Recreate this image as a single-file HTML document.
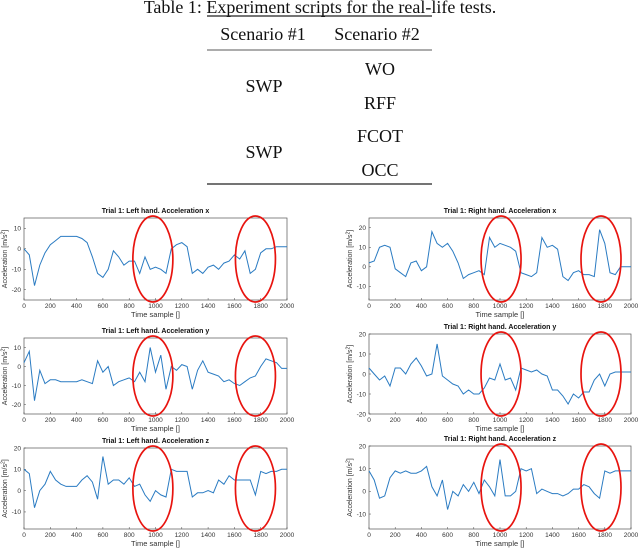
<!DOCTYPE html>
<html><head><meta charset="utf-8"><style>
html,body{margin:0;padding:0;background:#fff;width:640px;height:552px;overflow:hidden}
svg{display:block}
.tx{font-family:"Liberation Serif",serif;fill:#111;font-size:18px}
</style></head><body>
<svg id="c" width="640" height="552" xmlns="http://www.w3.org/2000/svg">
<g>
<text class="tx" x="320" y="13" text-anchor="middle" font-size="17">Table 1: Experiment scripts for the real-life tests.</text>
<line x1="207" y1="16" x2="432" y2="16" stroke="#222" stroke-width="1.2"/>
<text class="tx" x="263" y="40" text-anchor="middle">Scenario #1</text>
<text class="tx" x="377" y="40" text-anchor="middle">Scenario #2</text>
<line x1="207" y1="50" x2="432" y2="50" stroke="#222" stroke-width="0.8"/>
<text class="tx" x="264" y="92" text-anchor="middle">SWP</text>
<text class="tx" x="380" y="75" text-anchor="middle">WO</text>
<text class="tx" x="380" y="109" text-anchor="middle">RFF</text>
<text class="tx" x="264" y="158" text-anchor="middle">SWP</text>
<text class="tx" x="380" y="142" text-anchor="middle">FCOT</text>
<text class="tx" x="380" y="176" text-anchor="middle">OCC</text>
<line x1="207" y1="184" x2="432" y2="184" stroke="#222" stroke-width="1.2"/>
</g>
</svg>
<script>
const timeSamples=[0,40,80,120,160,200,240,280,320,360,400,440,480,520,560,600,640,680,720,760,800,840,880,920,960,1000,1040,1080,1120,1160,1200,1240,1280,1320,1360,1400,1440,1480,1520,1560,1600,1640,1680,1720,1760,1800,1840,1880,1920,1960,2000];
const xTicks=[0,200,400,600,800,1000,1200,1400,1600,1800,2000];
const leftX=[0,-3,-18,-8,-2,2,4,6,6,6,6,5,3,-4,-12,-14,-10,-1,-4,-8,-6,-6,-12,-4,-10,-9,-10,-12,0,2,3,1,-12,-10,-12,-9,-8,-10,-7,-6,-3,-5,-1,-12,-10,-2,0,0,1,1,1];
const leftY=[2,8,-18,-2,-9,-7,-7,-8,-8,-8,-8,-7,-8,-9,3,-3,0,-10,-8,-7,-6,-8,-3,-8,10,-3,6,-12,0,-2,1,0,-12,-2,3,-3,-4,-5,-8,-7,-9,-10,-8,-6,-5,0,4,3,2,-1,-1];
const leftZ=[10,8,-8,0,3,9,5,3,2,2,2,5,7,4,-4,16,3,5,5,3,6,2,3,-2,-5,0,-2,-3,10,9,9,9,-3,-1,-1,0,-1,5,3,7,5,5,5,5,-2,9,8,9,9,10,10];
const rightX=[2,3,10,11,10,-1,-3,-5,2,3,-2,0,18,12,10,12,8,2,-6,-4,-3,-2,-4,15,10,12,11,10,8,-3,-4,-5,-3,15,10,11,9,-5,-7,-3,-2,-4,-4,-5,19,12,-3,-4,0,0,0];
const rightY=[3,0,-3,-1,-6,3,3,0,5,8,4,-1,0,15,-1,-3,-5,-6,-10,-8,-10,-10,-7,-2,-3,5,-3,-2,-8,3,2,1,2,0,-1,-8,-8,-11,-15,-10,-12,-9,-9,-3,0,-6,0,1,1,1,1];
const rightZ=[9,5,-3,-2,6,9,8,9,8,8,9,11,2,-2,5,-8,0,-2,3,0,4,-1,5,2,-2,14,-2,-2,0,10,9,10,-1,1,0,-1,-1,-2,-1,1,1,3,2,-1,-3,9,8,9,9,9,9];
const yTicksLX=[10,0,-10,-20], yTicksLY=[10,0,-10,-20], yTicksLZ=[20,10,0,-10];
const yTicksRX=[20,10,0,-10], yTicksRY=[20,10,0,-10,-20], yTicksRZ=[20,10,0,-10];
const ellipseCentersLeft=[980,1760], ellipseCentersRight=[1008,1771];

const NS="http://www.w3.org/2000/svg";
const svg=document.getElementById('c');
function mk(tag,attrs,parent){const e=document.createElementNS(NS,tag);for(const k in attrs)e.setAttribute(k,attrs[k]);(parent||svg).appendChild(e);return e;}
const panels=[
 {name:'left-x',title:'Trial 1: Left hand. Acceleration x',x0:24,x1:287,y0:218,y1:300,ymax:15,ymin:-25,data:leftX,ticks:yTicksLX,ell:ellipseCentersLeft},
 {name:'left-y',title:'Trial 1: Left hand. Acceleration y',x0:24,x1:287,y0:338,y1:414,ymax:15,ymin:-25,data:leftY,ticks:yTicksLY,ell:ellipseCentersLeft},
 {name:'left-z',title:'Trial 1: Left hand. Acceleration z',x0:24,x1:287,y0:448,y1:529,ymax:20,ymin:-18,data:leftZ,ticks:yTicksLZ,ell:ellipseCentersLeft},
 {name:'right-x',title:'Trial 1: Right hand. Acceleration x',x0:369,x1:631,y0:218,y1:300,ymax:25,ymin:-17,data:rightX,ticks:yTicksRX,ell:ellipseCentersRight},
 {name:'right-y',title:'Trial 1: Right hand. Acceleration y',x0:369,x1:631,y0:334,y1:414,ymax:20,ymin:-20,data:rightY,ticks:yTicksRY,ell:ellipseCentersRight},
 {name:'right-z',title:'Trial 1: Right hand. Acceleration z',x0:369,x1:631,y0:446,y1:529,ymax:20,ymin:-16.6,data:rightZ,ticks:yTicksRZ,ell:ellipseCentersRight}
];
panels.forEach(p=>{
 const g=mk('g',{});
 
 
 const sx=v=>p.x0+(v-0)/2000*(p.x1-p.x0);
 const sy=v=>p.y0+(p.ymax-v)/(p.ymax-p.ymin)*(p.y1-p.y0);
 const box=mk('rect',{x:p.x0,y:p.y0,width:p.x1-p.x0,height:p.y1-p.y0,fill:'#fff',stroke:'#555','stroke-width':0.7},g);
 
 
 const t=mk('text',{x:(p.x0+p.x1)/2,y:p.y0-5,'text-anchor':'middle','font-family':'Liberation Sans, sans-serif','font-size':7,'font-weight':'bold',fill:'#111'},g);
 t.textContent=p.title;
 
 
 xTicks.forEach(v=>{
  mk('line',{x1:sx(v),x2:sx(v),y1:p.y1,y2:p.y1-2,stroke:'#444','stroke-width':0.5},g);
  const l=mk('text',{x:sx(v),y:p.y1+8,'text-anchor':'middle','font-family':'Liberation Sans, sans-serif','font-size':6.5,fill:'#333'},g);
  l.textContent=v;
  
  
 });
 p.ticks.forEach(v=>{
  mk('line',{x1:p.x0,x2:p.x0+2,y1:sy(v),y2:sy(v),stroke:'#444','stroke-width':0.5},g);
  const l=mk('text',{x:p.x0-3,y:sy(v)+2.3,'text-anchor':'end','font-family':'Liberation Sans, sans-serif','font-size':6.5,fill:'#333'},g);
  l.textContent=v;
  
  
 });
 const xl=mk('text',{x:(p.x0+p.x1)/2,y:p.y1+17,'text-anchor':'middle','font-family':'Liberation Sans, sans-serif','font-size':7.5,fill:'#333'},g);
 xl.textContent='Time sample []';
 
 
 const cy=(p.y0+p.y1)/2, yx=p.x0-17;
 const yl=mk('text',{x:yx,y:cy,'text-anchor':'middle','font-family':'Liberation Sans, sans-serif','font-size':7,fill:'#333',transform:`rotate(-90 ${yx} ${cy})`},g);
 yl.innerHTML='Acceleration [m/s<tspan dy="-2.5" font-size="5">2</tspan><tspan dy="2.5">]</tspan>';
 
 
 const pts=p.data.map((v,i)=>sx(timeSamples[i]).toFixed(1)+','+sy(v).toFixed(1)).join(' ');
 const line=mk('polyline',{points:pts,fill:'none',stroke:'#2a7bc2','stroke-width':1.0},g);
 
 
 p.ell.forEach(c=>{
  const e=mk('ellipse',{cx:sx(c),cy:cy,rx:20,ry:(p.y1-p.y0)/2+2,fill:'none',stroke:'#e8140f','stroke-width':1.7},g);
  
  
 });
});
</script>
</body></html>
